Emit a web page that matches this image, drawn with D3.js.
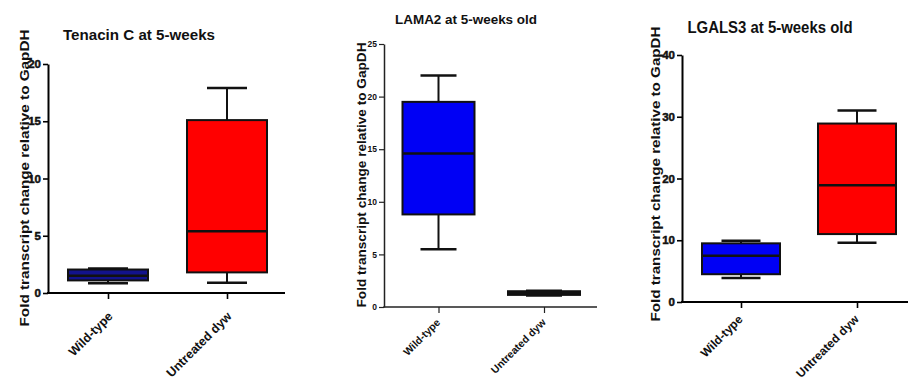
<!DOCTYPE html>
<html>
<head>
<meta charset="utf-8">
<script src="https://cdn.jsdelivr.net/npm/d3@7"></script>
<style>
  body { margin: 0; background: #fff; }
  svg { display: block; font-family: Arial, "Liberation Sans", sans-serif; }
</style>
</head>
<body>
<div id="chart"></div>
<script>
// data: five-number summaries [min, q1, median, q3, max]
const categories = ["Wild-type", "Untreated dyw"];
const titles = ["Tenacin C at 5-weeks", "LAMA2 at 5-weeks old", "LGALS3 at 5-weeks old"];
const yLabel = "Fold transcript change relative to GapDH";

const tenacinWT = [0.85, 1.1, 1.5, 2.05, 2.15];
const tenacinDyw = [0.9, 1.8, 5.4, 15.1, 17.9];
const lama2WT = [5.5, 8.8, 14.6, 19.5, 22.0];
const lama2Dyw = [1.1, 1.15, 1.3, 1.5, 1.55];
const lgals3WT = [3.9, 4.5, 7.5, 9.5, 9.9];
const lgals3Dyw = [9.6, 11.0, 18.9, 28.9, 31.0];

const ticksTenacin = [0, 5, 10, 15, 20];
const ticksLama2 = [0, 5, 10, 15, 20, 25];
const ticksLgals3 = [0, 10, 20, 30, 40];

const boxColors = {
  "Wild-type": "#0000f5",
  "Untreated dyw": "#ff0000"
};

// layout of each panel (pixels)
const panels = [
  { title: titles[0], series: [tenacinWT, tenacinDyw], ticks: ticksTenacin,
    axisX: 48, y0: 293, yTop: 64, xEnd: 285, c1: 108, c2: 227, boxW: 80,
    titleX: 139, titleY: 40, titleSize: 15, titleLen: 152,
    labelX: 29, labelY: 178, labelLen: 297, tickSize: 11.5, tickW: 0.5, xSize: 12.5, xOff: [5, 24],
    wtColor: "#12128c", axisStroke: "#000", axisW: 2 },
  { title: titles[1], series: [lama2WT, lama2Dyw], ticks: ticksLama2,
    axisX: 384, y0: 307, yTop: 44, xEnd: 597, c1: 438.5, c2: 544, boxW: 72,
    titleX: 466, titleY: 24, titleSize: 13, titleLen: 142,
    labelX: 366, labelY: 175, labelLen: 265, tickSize: 8.5, tickW: 0, xSize: 10.5, xOff: [2, 16],
    wtColor: "#0000f5", axisStroke: "#222", axisW: 1.5 },
  { title: titles[2], series: [lgals3WT, lgals3Dyw], ticks: ticksLgals3,
    axisX: 682, y0: 302, yTop: 55, xEnd: 908, c1: 741, c2: 857, boxW: 78,
    titleX: 770, titleY: 33, titleSize: 16, titleLen: 165,
    labelX: 660, labelY: 174, labelLen: 295, tickSize: 11.5, tickW: 0.5, xSize: 12, xOff: [2, 18],
    wtColor: "#0000f5", axisStroke: "#000", axisW: 2 }
];

const svg = d3.select("#chart")
  .append("svg")
  .attr("width", 908)
  .attr("height", 386);

panels.forEach(p => {
  const g = svg.append("g");
  const yMax = p.ticks[p.ticks.length - 1];

  const y = d3.scaleLinear().domain([0, yMax]).range([p.y0, p.yTop]);
  const x = d3.scalePoint().domain(categories).range([p.c1, p.c2]);

  // title
  g.append("text")
    .attr("x", p.titleX)
    .attr("y", p.titleY)
    .attr("text-anchor", "middle")
    .attr("font-size", p.titleSize)
    .attr("font-weight", "bold")
    .attr("fill", "#111")
    .attr("textLength", p.titleLen)
    .attr("lengthAdjust", "spacingAndGlyphs")
    .text(p.title);

  // y axis label
  g.append("text")
    .attr("transform", `translate(${p.labelX},${p.labelY}) rotate(-90)`)
    .attr("text-anchor", "middle")
    .attr("font-size", 13)
    .attr("font-weight", "bold")
    .attr("fill", "#111")
    .attr("textLength", p.labelLen)
    .attr("lengthAdjust", "spacingAndGlyphs")
    .text(yLabel);

  // y axis
  const ya = g.append("g")
    .attr("transform", `translate(${p.axisX},0)`)
    .call(d3.axisLeft(y).tickValues(p.ticks).tickSize(5).tickSizeOuter(0).tickPadding(2));
  ya.select(".domain").attr("stroke", p.axisStroke).attr("stroke-width", p.axisW);
  ya.selectAll(".tick line").attr("stroke", p.axisStroke).attr("stroke-width", p.axisW * 0.8);
  ya.selectAll(".tick text")
    .style("font-size", p.tickSize + "px")
    .style("font-weight", "bold")
    .style("font-family", "Arial, 'Liberation Sans', sans-serif")
    .attr("fill", "#111")
    .attr("stroke", "#111")
    .attr("stroke-width", p.tickW);

  // x axis
  const xa = g.append("g")
    .attr("transform", `translate(0,${p.y0})`)
    .call(d3.axisBottom(x).tickSize(6).tickSizeOuter(0));
  xa.select(".domain").remove();
  xa.append("line")
    .attr("x1", p.axisX - p.axisW / 2).attr("x2", p.xEnd)
    .attr("stroke", p.axisStroke).attr("stroke-width", p.axisW);
  xa.selectAll(".tick line").attr("stroke", p.axisStroke).attr("stroke-width", p.axisW * 0.8);
  xa.selectAll(".tick text")
    .style("font-size", p.xSize + "px")
    .style("font-weight", "bold")
    .style("font-family", "Arial, 'Liberation Sans', sans-serif")
    .attr("fill", "#111")
    .attr("text-anchor", "end")
    .attr("dy", null)
    .attr("y", null)
    .attr("transform", `translate(${p.xOff[0]},${p.xOff[1]}) rotate(-45)`);

  // boxes
  categories.forEach((cat, i) => {
    const s = p.series[i];
    const cx = x(cat);
    const w = p.boxW;
    const color = cat === "Wild-type" ? p.wtColor : boxColors[cat];
    const b = g.append("g");

    // whiskers
    b.append("line")
      .attr("x1", cx).attr("x2", cx)
      .attr("y1", y(s[0])).attr("y2", y(s[1]))
      .attr("stroke", "#111").attr("stroke-width", 2);
    b.append("line")
      .attr("x1", cx).attr("x2", cx)
      .attr("y1", y(s[3])).attr("y2", y(s[4]))
      .attr("stroke", "#111").attr("stroke-width", 2);
    [s[0], s[4]].forEach(v => {
      b.append("line")
        .attr("x1", cx - w / 4).attr("x2", cx + w / 4)
        .attr("y1", y(v)).attr("y2", y(v))
        .attr("stroke", "#111").attr("stroke-width", 2.5);
    });

    // box
    b.append("rect")
      .attr("x", cx - w / 2)
      .attr("y", y(s[3]))
      .attr("width", w)
      .attr("height", y(s[1]) - y(s[3]))
      .attr("fill", color)
      .attr("stroke", "#111")
      .attr("stroke-width", 2);

    // median
    b.append("line")
      .attr("x1", cx - w / 2).attr("x2", cx + w / 2)
      .attr("y1", y(s[2])).attr("y2", y(s[2]))
      .attr("stroke", "#111").attr("stroke-width", 2.5);
  });
});
</script>
</body>
</html>
